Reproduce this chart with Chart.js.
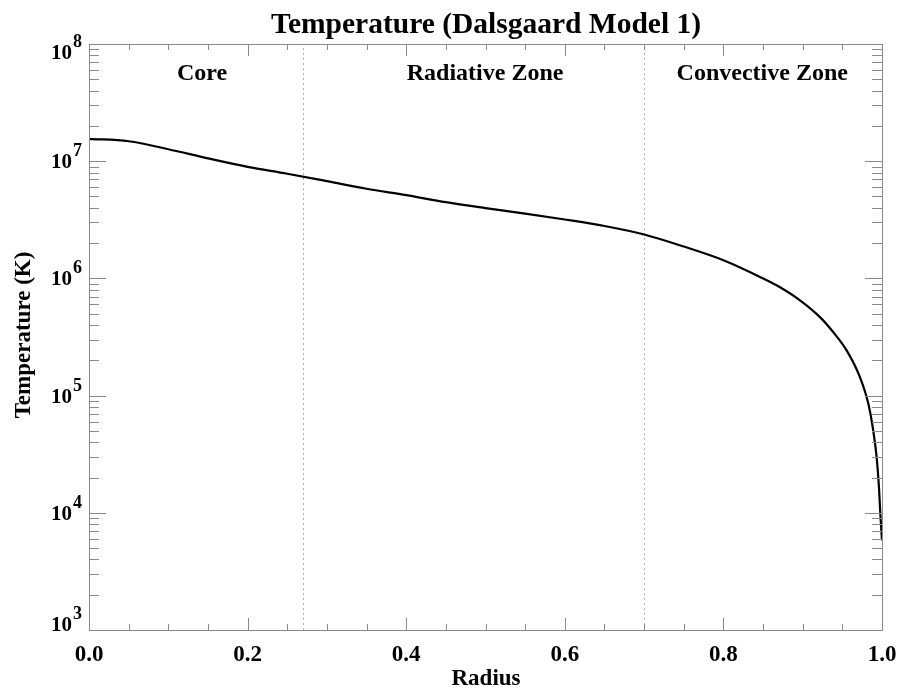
<!DOCTYPE html>
<html>
<head>
<meta charset="utf-8">
<script src="https://cdn.jsdelivr.net/npm/chart.js@4.4.1/dist/chart.umd.min.js"></script>
<style>
  html, body { margin: 0; padding: 0; background: #fff; }
  #wrap { width: 898px; height: 689px; }
</style>
</head>
<body>
<div id="wrap"><canvas id="tempChart" width="898" height="689"></canvas></div>
<script>
// Values
const radius = [0, 0.05, 0.1, 0.15, 0.2, 0.25, 0.3, 0.35, 0.4, 0.45, 0.5, 0.55, 0.6, 0.65, 0.7,
    0.75, 0.8, 0.85, 0.8714, 0.8966, 0.9218, 0.9386, 0.9554, 0.9723, 0.9828, 0.989, 0.9933,
    0.9962, 0.9979, 1.0];
const temperature = [1.55e7, 1.48e7, 1.265e7, 1.057e7, 8.95e6, 7.82e6, 6.76e6, 5.82e6, 5.13e6,
    4.47e6, 3.98e6, 3.57e6, 3.18e6, 2.80e6, 2.37e6, 1.87e6, 1.43e6, 1.0e6, 8.4e5, 6.5e5, 4.67e5,
    3.47e5, 2.43e5, 1.43e5, 8.5e4, 5.0e4, 2.95e4, 1.64e4, 9.8e3, 5.8e3];
const xTicks = [0.0, 0.2, 0.4, 0.6, 0.8, 1.0];
const yExponents = [3, 4, 5, 6, 7, 8];
const zoneEdges = [0.27, 0.70];
const zoneNames = ['Core', 'Radiative Zone', 'Convective Zone'];
const zoneLabelAt = [0.1425, 0.4995, 0.849];

const SERIF = '"Liberation Serif", "DejaVu Serif", serif';
const AXIS_GRAY = '#8a8a8a';

// Frame, inward ticks, labels and zone markers (IDL style)
const idlAxes = {
    id: 'idlAxes',
    beforeDatasetsDraw(chart) {
        const ctx = chart.ctx;
        const xs = chart.scales.x;
        const a = chart.chartArea;
        ctx.save();
        ctx.strokeStyle = '#b0b0b0';
        ctx.lineWidth = 1;
        ctx.setLineDash([2, 3]);
        zoneEdges.forEach(r => {
            const px = Math.round(xs.getPixelForValue(r)) + 0.5;
            ctx.beginPath();
            ctx.moveTo(px, a.bottom);
            ctx.lineTo(px, a.top);
            ctx.stroke();
        });
        ctx.restore();
    },
    afterDraw(chart) {
        const ctx = chart.ctx;
        const xs = chart.scales.x, ys = chart.scales.y;
        const a = chart.chartArea;
        ctx.save();
        ctx.strokeStyle = AXIS_GRAY;
        ctx.lineWidth = 1;
        ctx.strokeRect(Math.round(a.left) + 0.5, Math.round(a.top) + 0.5,
            Math.round(a.right - a.left), Math.round(a.bottom - a.top));

        // x ticks: major every 0.2, minor every 0.05
        ctx.beginPath();
        for (let i = 0; i <= 20; i++) {
            const px = Math.round(xs.getPixelForValue(i * 0.05)) + 0.5;
            const len = (i % 4 === 0) ? 12 : 6;
            ctx.moveTo(px, a.bottom); ctx.lineTo(px, a.bottom - len);
            ctx.moveTo(px, a.top); ctx.lineTo(px, a.top + len);
        }
        // y ticks: major per decade, minor at 2..9
        for (let e = 3; e <= 8; e++) {
            for (let m = 1; m <= 9; m++) {
                if (e === 8 && m > 1) break;
                const py = Math.round(ys.getPixelForValue(m * Math.pow(10, e))) + 0.5;
                const len = (m === 1) ? 17 : 10;
                ctx.moveTo(a.left, py); ctx.lineTo(a.left + len, py);
                ctx.moveTo(a.right, py); ctx.lineTo(a.right - len, py);
            }
        }
        ctx.stroke();

        ctx.fillStyle = '#000';
        // x tick labels
        ctx.font = 'bold 23px ' + SERIF;
        ctx.textAlign = 'center';
        ctx.textBaseline = 'alphabetic';
        xTicks.forEach(v => {
            ctx.fillText(v.toFixed(1), xs.getPixelForValue(v), 661);
        });

        // y tick labels 10^n
        yExponents.forEach(e => {
            let cy = ys.getPixelForValue(Math.pow(10, e));
            cy = Math.min(Math.max(cy, 52), 624);
            const base = cy + 7;
            ctx.font = 'bold 21px ' + SERIF;
            ctx.textAlign = 'right';
            ctx.fillText('10', 72, base);
            ctx.font = 'bold 18px ' + SERIF;
            ctx.textAlign = 'left';
            ctx.fillText(String(e), 73, base - 12);
        });

        // zone names
        ctx.font = 'bold 24px ' + SERIF;
        ctx.textAlign = 'center';
        ctx.textBaseline = 'alphabetic';
        zoneNames.forEach((name, i) => {
            ctx.fillText(name, xs.getPixelForValue(zoneLabelAt[i]), 80);
        });

        // title
        ctx.font = 'bold 29.5px ' + SERIF;
        ctx.fillText('Temperature (Dalsgaard Model 1)', 486, 33);

        // axis titles
        ctx.font = 'bold 23px ' + SERIF;
        ctx.fillText('Radius', 486, 685);
        ctx.translate(30, 335);
        ctx.rotate(-Math.PI / 2);
        ctx.fillText('Temperature (K)', 0, 0);
        ctx.restore();
    }
};

document.addEventListener('DOMContentLoaded', function () {
    const ctx = document.getElementById('tempChart').getContext('2d');
    new Chart(ctx, {
        type: 'line',
        data: {
            datasets: [{
                label: 'Temperature',
                data: radius.map((r, i) => ({ x: r, y: temperature[i] })),
                borderColor: '#000',
                borderWidth: 2.2,
                pointRadius: 0,
                fill: false,
                cubicInterpolationMode: 'monotone'
            }]
        },
        options: {
            responsive: false,
            animation: false,
            layout: { padding: { left: 89, right: 16, top: 44, bottom: 59 } },
            plugins: { legend: { display: false }, tooltip: { enabled: false }, title: { display: false } },
            scales: {
                x: { type: 'linear', min: 0, max: 1, display: false },
                y: { type: 'logarithmic', min: 1e3, max: 1e8, display: false }
            }
        },
        plugins: [idlAxes]
    });
});
</script>
</body>
</html>
